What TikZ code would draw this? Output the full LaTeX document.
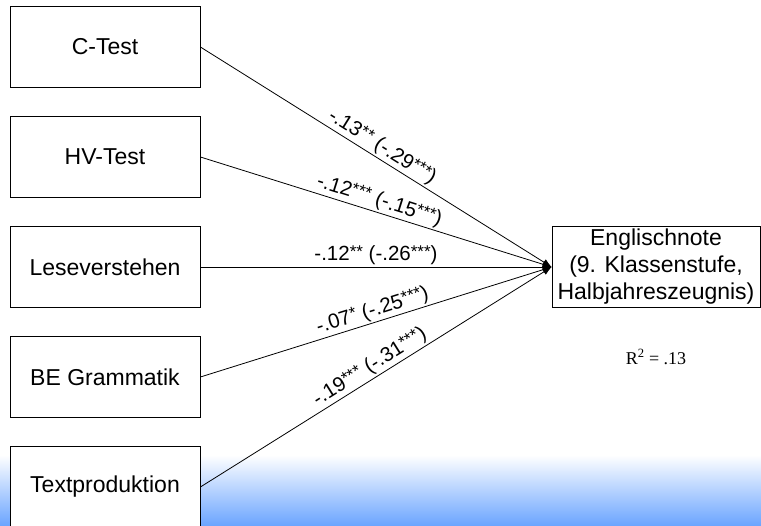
\documentclass[tikz,border=0pt]{standalone}
\usepackage{fontspec}
\setmainfont{Liberation Sans}
\newfontfamily\timesfont{Liberation Serif}
\usetikzlibrary{arrows.meta}
\definecolor{gradblue}{RGB}{106,164,255}
\newcommand{\stars}[1]{\raisebox{0.17em}{\fontsize{17}{17}\selectfont #1}}
\begin{document}
\begin{tikzpicture}[x=1pt,y=-1pt,
  srcbox/.style={draw=black, line width=0.8pt, fill=white, minimum width=190pt, minimum height=81pt, inner sep=0pt, font=\fontsize{23}{27}\selectfont},
  conn/.style={line width=0.8pt, -{Latex[length=9pt,width=7pt]}},
  lab/.style={font=\fontsize{20.5}{23}\selectfont, sloped, above, inner sep=1.5pt, pos=0.5}]
\useasboundingbox (0,0) rectangle (761,526);
\shade[top color=white, bottom color=gradblue] (0,455) rectangle (761,526);
\node[srcbox] (c) at (105,47) {C-Test};
\node[srcbox] (hv) at (105,157) {HV-Test};
\node[srcbox] (lv) at (105,267) {Leseverstehen};
\node[srcbox] (be) at (105,377) {BE Grammatik};
\node[srcbox] (tp) at (105,487) {Textproduktion};
\node[draw=black, line width=0.8pt, fill=white, minimum width=208pt, minimum height=81pt, inner sep=0pt, align=center, font=\fontsize{23}{27}\selectfont] (en) at (656,267) {Englischnote\\(9. Klassenstufe,\\Halbjahreszeugnis)};
\node[font=\timesfont\fontsize{18}{20}\selectfont] (r2) at (656,357) {R\textsuperscript{2} = .13};
\draw[conn] (c.east) -- node[lab] {-.13\stars{**} (-.29\stars{***})} (en.west);
\draw[conn] (hv.east) -- node[lab] {-.12\stars{***} (-.15\stars{***})} (en.west);
\draw[conn] (lv.east) -- node[lab] {-.12\stars{**} (-.26\stars{***})} (en.west);
\draw[conn] (be.east) -- node[lab] {-.07\stars{*} (-.25\stars{***})} (en.west);
\draw[conn] (tp.east) -- node[lab] {-.19\stars{***} (-.31\stars{***})} (en.west);
\end{tikzpicture}
\end{document}
